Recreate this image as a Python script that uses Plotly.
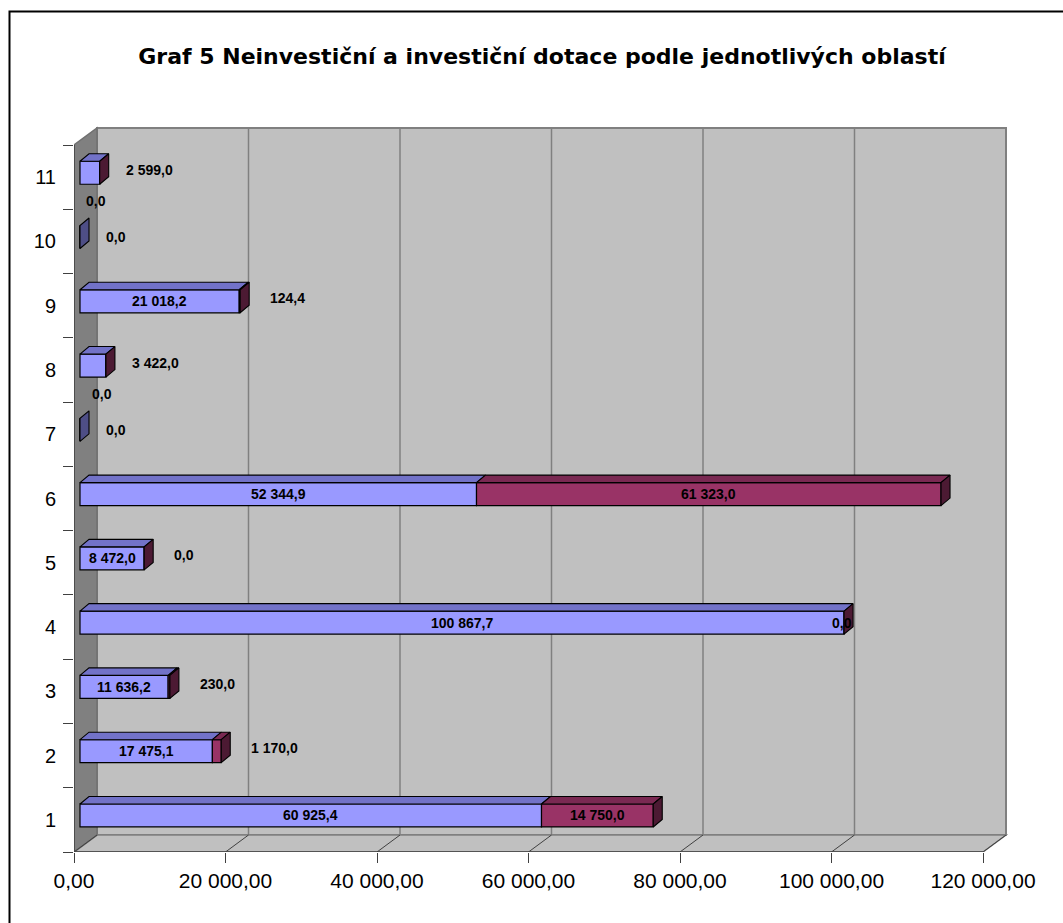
import plotly.graph_objects as go

# ---------------- data ----------------
categories = [1, 2, 3, 4, 5, 6, 7, 8, 9, 10, 11]
neinvesticni = [60925.4, 17475.1, 11636.2, 100867.7, 8472.0, 52344.9, 0.0, 3422.0, 21018.2, 0.0, 2599.0]
investicni = [14750.0, 1170.0, 230.0, 0.0, 0.0, 61323.0, 0.0, 0.0, 124.4, 0.0, 0.0]
x_tickvals = [0, 20000, 40000, 60000, 80000, 100000, 120000]
x_ticktext = ["0,00", "20 000,00", "40 000,00", "60 000,00", "80 000,00", "100 000,00", "120 000,00"]
title_text = "Graf 5 Neinvestiční a investiční dotace podle jednotlivých oblastí"

# ---------------- geometry (pixels) ----------------
W, H = 1063, 923
PL, PR, PT, PB = 74, 1010, 124, 852        # plot area in px
XMAX = 120000
PX = 909.0 / XMAX                          # px per data unit (front plane)
CY = (852 - 145) / 11.0                    # px per category
x_range = [0, (PR - PL) / PX]
y_range = [0.5, 0.5 + (PB - PT) / CY]
YTOP = 11.5

WDX, WDY = 23 / PX, 17 / CY                # wall depth
BFX, BFY = 6 / PX, 4.4 / CY                # bar front-plane offset
BDX, BDY = 9 / PX, 7.5 / CY                # bar depth
BH = 11.5 / CY                             # half bar thickness

BLUE, BLUE_TOP, BLUE_SIDE = "#9999FF", "#7272C8", "#4E4E86"
MAR, MAR_TOP, MAR_SIDE = "#993366", "#7A2952", "#4C1A33"
FONT = "Arial, Liberation Sans, sans-serif"
WIDE = "DejaVu Sans, Arial, sans-serif"

fig = go.Figure()

# front faces
ys = [c + BFY for c in categories]
fig.add_trace(go.Bar(orientation="h", y=ys, x=neinvesticni, base=[BFX] * len(categories),
                     width=2 * BH, marker=dict(color=BLUE, line=dict(color="black", width=1.2)),
                     name="Neinvestiční", hoverinfo="skip"))
fig.add_trace(go.Bar(orientation="h", y=ys, x=investicni,
                     base=[BFX + v for v in neinvesticni],
                     width=2 * BH, marker=dict(color=MAR, line=dict(color="black", width=1.2)),
                     name="Investiční", hoverinfo="skip"))


def top_poly(x0, x1, yt):
    return ([x0, x1, x1 + BDX, x0 + BDX, x0, None],
            [yt, yt, yt + BDY, yt + BDY, yt, None])


def side_poly(xe, yb, yt):
    return ([xe, xe, xe + BDX, xe + BDX, xe, None],
            [yb, yt, yt + BDY, yb + BDY, yb, None])


bt_x, bt_y, mt_x, mt_y = [], [], [], []
sm_x, sm_y, sb_x, sb_y = [], [], [], []
for c, a, b in zip(categories, neinvesticni, investicni):
    yc = c + BFY
    yt, yb = yc + BH, yc - BH
    if a > 0:
        px_, py_ = top_poly(BFX, BFX + a, yt)
        bt_x += px_; bt_y += py_
    if b > 0:
        px_, py_ = top_poly(BFX + a, BFX + a + b, yt)
        mt_x += px_; mt_y += py_
    px_, py_ = side_poly(BFX + a + b, yb, yt)
    if a > 0:
        sm_x += px_; sm_y += py_
    else:
        sb_x += px_; sb_y += py_

for xs_, ys_, col in [(bt_x, bt_y, BLUE_TOP), (mt_x, mt_y, MAR_TOP),
                      (sm_x, sm_y, MAR_SIDE), (sb_x, sb_y, BLUE_SIDE)]:
    fig.add_trace(go.Scatter(x=xs_, y=ys_, mode="lines", fill="toself", fillcolor=col,
                             line=dict(color="black", width=1.1), hoverinfo="skip",
                             showlegend=False))

# ---------------- walls & grid (shapes) ----------------
shapes = []
gray_wall, grid_col, edge_col = "#C0C0C0", "#808080", "#808080"
# back wall
shapes.append(dict(type="rect", xref="x", yref="y", x0=WDX, x1=XMAX + WDX,
                   y0=0.5 + WDY, y1=YTOP + WDY, fillcolor=gray_wall,
                   line=dict(color=edge_col, width=2), layer="below"))
# floor
shapes.append(dict(type="path", xref="x", yref="y", layer="below",
                   path=f"M0,0.5 L{XMAX},0.5 L{XMAX + WDX},{0.5 + WDY} L{WDX},{0.5 + WDY} Z",
                   fillcolor=gray_wall, line=dict(color=edge_col, width=1.5)))
# side wall
shapes.append(dict(type="path", xref="x", yref="y", layer="below",
                   path=f"M0,0.5 L0,{YTOP} L{WDX},{YTOP + WDY} L{WDX},{0.5 + WDY} Z",
                   fillcolor="#808080", line=dict(color="#707070", width=1.5)))
# grid lines on back wall and floor diagonals
for v in x_tickvals[1:-1]:
    shapes.append(dict(type="line", xref="x", yref="y", layer="below",
                       x0=v + WDX, x1=v + WDX, y0=0.5 + WDY, y1=YTOP + WDY,
                       line=dict(color=grid_col, width=1.5)))
for v in x_tickvals:
    shapes.append(dict(type="line", xref="x", yref="y", layer="below",
                       x0=v, x1=v + WDX, y0=0.5, y1=0.5 + WDY,
                       line=dict(color="#404040", width=1)))
# front axis lines
shapes.append(dict(type="line", xref="x", yref="y", layer="below",
                   x0=0, x1=XMAX, y0=0.5, y1=0.5, line=dict(color="#404040", width=1.5)))
shapes.append(dict(type="line", xref="x", yref="y", layer="below",
                   x0=0, x1=0, y0=0.5, y1=YTOP, line=dict(color="#404040", width=1.5)))

# outer border (paper coords)
def pu(px):
    return (px - PL) / (PR - PL)


def pv(py):
    return (PB - py) / (PB - PT)


shapes.append(dict(type="rect", xref="paper", yref="paper", x0=pu(9.5), x1=pu(1075),
                   y0=pv(935), y1=pv(11.5), line=dict(color="black", width=2),
                   fillcolor="rgba(0,0,0,0)"))

# ---------------- data labels ----------------
def fmt(v):
    return f"{v:,.1f}".replace(",", " ").replace(".", ",")


def tw(s, size=14):
    w = 0
    for ch in s:
        w += 0.556 if ch.isdigit() else 0.278
    return w * size


LFS = 14
annotations = []


def lab(text, x, y, xanchor="center", xshift=0, yshift=0):
    annotations.append(dict(text=text, x=x, y=y, xref="x", yref="y", showarrow=False,
                            xanchor=xanchor, yanchor="middle", xshift=xshift, yshift=yshift,
                            font=dict(family=FONT, size=LFS, color="black", weight="bold")))


GAP = 24
for c, a, b in zip(categories, neinvesticni, investicni):
    yc = c + BFY
    end = BFX + a + b
    la, lb_ = fmt(a), fmt(b)
    if a == 0 and b == 0:
        lab(la, end, yc, "left", GAP)
        continue
    wa, wb = a * PX, b * PX
    blue_in = wa >= tw(la) + 6
    if blue_in:
        lab(la, BFX + a / 2, yc)
    else:
        lab(la, end, yc, "left", GAP, 3)
    if wb >= tw(lb_) + 6:
        lab(lb_, BFX + a + b / 2, yc)
    elif not blue_in:
        lab(lb_, end, yc, "center", -4, -28)
    elif b == 0 and (wa - tw(lb_) / 2 - 2) > (wa / 2 + tw(la) / 2 + 4):
        lab(lb_, end, yc, "center", -2)
    else:
        lab(lb_, end, yc, "left", GAP + 4, 3)

fig.update_layout(
    width=W, height=H,
    margin=dict(l=PL, r=W - PR, t=PT, b=H - PB, pad=0),
    paper_bgcolor="white", plot_bgcolor="white",
    barmode="overlay", showlegend=False,
    shapes=shapes, annotations=annotations,
    title=dict(text="<b>" + title_text + "</b>", x=542 / W, xref="container", xanchor="center",
               y=1 - 56 / H, yref="container", yanchor="middle",
               font=dict(family=WIDE, size=22, color="black")),
    font=dict(family=FONT, color="black"),
    xaxis=dict(range=x_range, tickvals=x_tickvals, ticktext=x_ticktext, ticks="outside",
               ticklen=10, tickwidth=1, tickcolor="#404040", showgrid=False, zeroline=False,
               showline=False, tickfont=dict(family=FONT, size=21, color="black"),
               fixedrange=True),
    yaxis=dict(range=y_range, tickvals=categories, ticktext=[str(c) for c in categories],
               ticks="outside", ticklen=10, tickcolor="rgba(0,0,0,0)", showgrid=False,
               zeroline=False, showline=False, ticklabelstandoff=3,
               tickfont=dict(family=FONT, size=20, color="black"),
               minor=dict(tickvals=[c - 0.5 for c in categories] + [categories[-1] + 0.5],
                          ticks="outside", ticklen=10, tickcolor="#404040", tickwidth=1,
                          showgrid=False),
               fixedrange=True),
)

fig.write_html("out.html", config={"displayModeBar": False},
               post_script="document.body.style.margin='0';document.body.style.padding='0';")
